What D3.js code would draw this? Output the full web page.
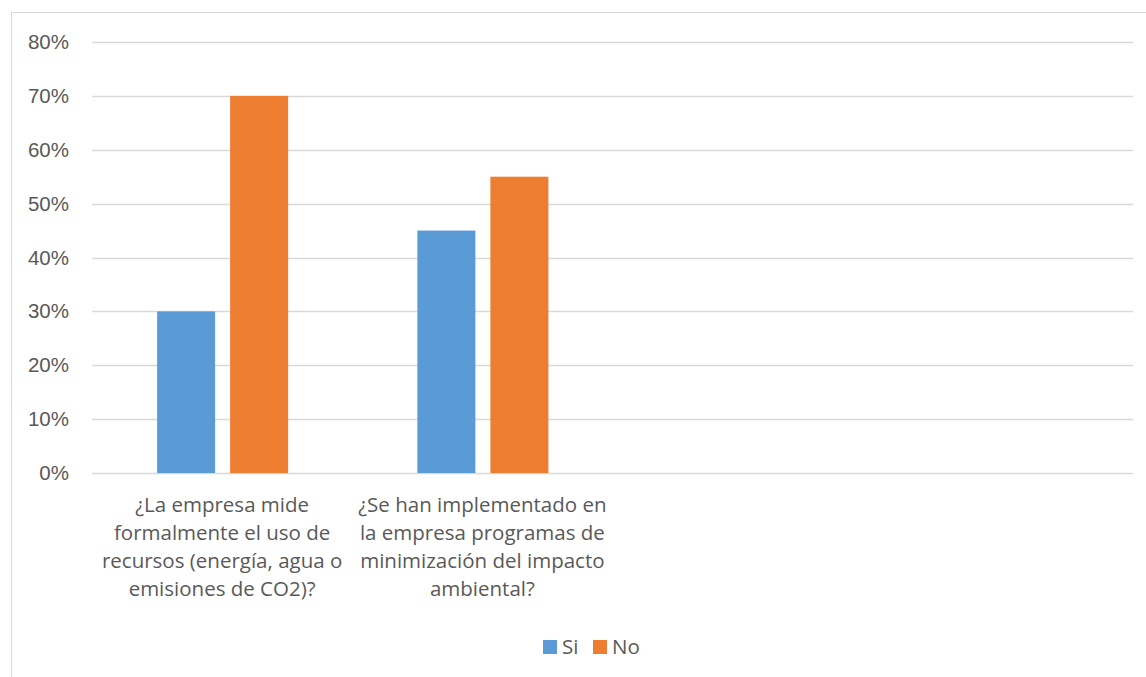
<!DOCTYPE html>
<html>
<head>
<meta charset="utf-8">
<script src="https://cdn.jsdelivr.net/npm/d3@7"></script>
<style>
  body { margin: 0; background: #fff; }
  svg { display: block; font-family: "Open Sans", Lato, sans-serif; }
</style>
</head>
<body>
<div id="chart"></div>
<script>
// categories (the last two slots are empty in the original sheet)
var categories = [
  ["¿La empresa mide", "formalmente el uso de", "recursos (energía, agua o", "emisiones de CO2)?"],
  ["¿Se han implementado en", "la empresa programas de", "minimización del impacto", "ambiental?"],
  [],
  []
];
var seriesNames = ["Si", "No"];
var siValues = [0.30, 0.45, null, null];
var noValues = [0.70, 0.55, null, null];
var yTicks = [0, 0.1, 0.2, 0.3, 0.4, 0.5, 0.6, 0.7, 0.8];
var colors = ["#5b9bd5", "#ed7d31"];

var width = 1146, height = 677;
var margin = {top: 42, left: 92, right: 13, bottom: 204};
var fontSize = "20.5px";

var svg = d3.select("#chart").append("svg")
    .attr("width", width)
    .attr("height", height);

// chart border
svg.append("rect")
    .attr("x", 11.5).attr("y", 12.5)
    .attr("width", 1150).attr("height", 700)
    .attr("fill", "none")
    .attr("stroke", "#d9d9d9");

var x = d3.scaleBand()
    .domain(d3.range(categories.length))
    .range([margin.left, width - margin.right]);

var y = d3.scaleLinear()
    .domain([0, 0.8])
    .range([height - margin.bottom, margin.top]);

// gridlines
svg.append("g").selectAll("line")
    .data(yTicks)
    .join("line")
    .attr("x1", margin.left).attr("x2", width - margin.right)
    .attr("y1", function(d){ return Math.round(y(d)) + 0.5; })
    .attr("y2", function(d){ return Math.round(y(d)) + 0.5; })
    .attr("stroke", "#d9d9d9")
    .attr("stroke-width", 1.5);

var yAxis = svg.append("g")
    .attr("transform", "translate(" + margin.left + ",0)")
    .call(d3.axisLeft(y).tickValues(yTicks).tickFormat(d3.format(".0%")).tickSize(0).tickPadding(23));
yAxis.select(".domain").remove();
yAxis.selectAll("text")
    .attr("fill", "#595959")
    .style("font-size", fontSize);

// bars
var barW = 58;
var offsets = [-65, 8]; // relative to band center
var series = [siValues, noValues];
series.forEach(function(vals, s){
  svg.append("g").selectAll("rect")
      .data(vals.map(function(v, i){ return {i: i, v: v}; }).filter(function(d){ return d.v != null; }))
      .join("rect")
      .attr("x", function(d){ return x(d.i) + x.bandwidth() / 2 + offsets[s]; })
      .attr("y", function(d){ return y(d.v); })
      .attr("width", barW)
      .attr("height", function(d){ return y(0) - y(d.v); })
      .attr("fill", colors[s]);
});

// category labels
categories.forEach(function(lines, i){
  var t = svg.append("text")
      .attr("text-anchor", "middle")
      .attr("fill", "#595959")
      .style("font-size", fontSize);
  lines.forEach(function(line, k){
    t.append("tspan")
        .attr("x", x(i) + x.bandwidth() / 2)
        .attr("y", 512 + k * 28)
        .text(line);
  });
});

// legend
var legend = svg.append("g").attr("transform", "translate(543,640)");
var legX = [0, 50];
seriesNames.forEach(function(name, s){
  var g = legend.append("g").attr("transform", "translate(" + legX[s] + ",0)");
  g.append("rect").attr("width", 14).attr("height", 14).attr("fill", colors[s]);
  g.append("text").attr("x", 19).attr("y", 14)
      .attr("fill", "#595959")
      .style("font-size", fontSize)
      .text(name);
});
</script>
</body>
</html>
